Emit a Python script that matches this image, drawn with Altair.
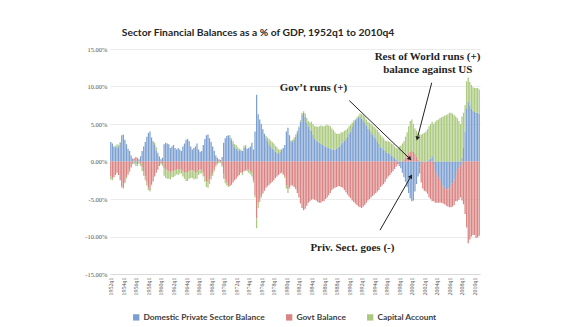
import altair as alt
import pandas as pd

# ---------------- data (percent of GDP, quarterly 1952q1 .. 2010q4) ----------------
first_year = 1952
series_names = ["Domestic Private Sector Balance", "Govt Balance", "Capital Account"]

private = [
    2.6, 2.4, 2.0, 1.9,   2.0, 1.9, 2.5, 3.5,   3.6, 2.9, 2.3, 1.7,   1.4, 0.8, 0.4, 0.1,
    -0.3, -0.4, 0.2, 0.7, 1.4, 2.0, 2.6, 3.3,   3.8, 4.0, 3.2, 2.7,   2.2, 1.5, 1.0, 0.6,
    0.3, 0.5, 2.3, 2.5,   2.4, 2.3, 1.8, 2.0,   2.2, 1.8, 1.6, 1.8,   1.6, 1.4, 2.0, 2.4,
    2.9, 3.0, 2.7, 2.0,   1.6, 1.8, 2.0, 2.4,   1.6, 1.3, 1.4, 2.2,   3.0, 3.5, 3.6, 3.1,
    2.6, 2.0, 1.4, 0.8,   0.5, 0.2, 0.0, 0.6,   2.5, 3.1, 3.4, 3.5,   3.2, 2.9, 2.4, 1.9,
    1.7, 1.5, 1.4, 1.4,   1.4, 1.8, 2.0, 1.7,   1.8, 2.0, 2.5, 1.6,   4.0, 8.9, 6.3, 5.6,
    5.0, 4.3, 3.7, 3.1,   2.7, 2.3, 2.0, 1.7,   1.6, 1.3, 1.2, 1.0,   1.3, 1.6, 1.8, 2.2,
    4.0, 4.5, 3.5, 2.7,   2.6, 2.9, 3.3, 3.8,   4.5, 5.3, 6.2, 6.5,   6.0, 5.2, 4.6, 4.2,
    4.1, 3.6, 3.0, 2.8,   2.6, 2.5, 2.4, 2.2,   2.1, 2.0, 1.9, 1.8,   1.7, 1.6, 1.6, 1.6,
    1.7, 1.9, 2.0, 2.3,   2.5, 2.8, 3.0, 3.3,   3.7, 4.0, 4.6, 5.1,   5.5, 5.7, 5.8, 6.0,
    5.7, 5.5, 5.2, 4.8,   4.4, 4.2, 3.9, 3.6,   3.3, 3.0, 2.7, 2.4,   1.9, 1.8, 1.6, 1.4,
    1.2, 1.1, 1.0, 0.8,   0.7, 0.5, 0.2, 0.0,   -0.4, -0.9, -1.5, -2.1, -2.7, -3.4, -4.2, -4.9,
    -5.3, -5.2, -4.0, -3.0, -2.0, -0.8, -0.3, 0.0, -0.1, 0.0, 0.1, 0.2,  0.4, 0.7, -0.5, -1.0,
    -1.6, -2.1, -2.6, -3.0, -3.3, -3.5, -3.7, -3.7, -3.6, -3.3, -2.9, -2.4, -1.8, -1.3, -0.9, -0.5,
    0.5, 1.8, 4.0, 7.0,   8.0, 7.5, 7.0, 6.8,   6.6, 6.5, 6.5, 6.4,
]

govt = [
    -2.0, -2.2, -2.1, -1.8, -1.5, -1.8, -2.5, -3.3, -3.5, -2.8, -2.1, -1.7, -1.2, -0.8, -0.3, 0.3,
    0.6, 0.5, 0.1, -0.2,  -0.8, -1.3, -2.0, -2.8, -3.5, -3.8, -3.0, -2.6, -2.0, -1.5, -1.1, -0.6,
    -0.2, -0.3, -0.9, -1.0, -1.2, -1.3, -1.5, -1.3, -1.3, -1.2, -1.1, -1.0, -1.0, -1.1, -1.3, -1.5,
    -1.5, -1.4, -1.3, -1.2, -1.2, -1.3, -1.4, -1.5, -1.2, -1.1, -1.1, -1.4, -2.0, -2.6, -2.8, -2.4,
    -2.0, -1.6, -1.0, -0.5, -0.2, 0.1, 0.2, -0.5, -1.7, -2.4, -2.8, -3.2, -3.3, -3.1, -2.8, -2.5,
    -2.3, -2.0, -1.8, -1.5, -1.5, -1.3, -1.2, -1.1, -1.1, -1.3, -1.5, -2.5, -4.5, -7.6, -5.5, -5.0,
    -4.6, -4.2, -3.9, -3.5, -3.3, -3.1, -2.9, -2.7, -2.5, -2.2, -2.0, -1.8, -1.6, -1.5, -1.7, -2.0,
    -3.2, -3.7, -3.4, -3.2, -3.2, -3.4, -3.7, -4.2, -4.8, -5.6, -6.2, -6.5, -6.3, -5.9, -5.5, -5.3,
    -5.1, -5.0, -5.1, -5.2, -5.4, -5.5, -5.5, -5.3, -5.3, -5.0, -4.8, -4.5, -4.2, -3.8, -3.6, -3.5,
    -3.4, -3.3, -3.3, -3.4, -3.5, -3.8, -4.1, -4.4, -4.7, -4.9, -5.2, -5.4, -5.6, -5.8, -6.0, -6.1,
    -6.2, -6.0, -5.8, -5.5, -5.2, -5.0, -4.8, -4.6, -4.4, -4.2, -4.0, -3.8, -3.4, -3.2, -3.0, -2.7,
    -2.3, -2.0, -1.8, -1.5, -1.3, -1.0, -0.7, -0.4, -0.2, 0.0, 0.1, 0.3,  0.5, 0.8, 1.1, 1.3,
    1.4, 1.3, 1.0, 0.6,   0.2, -0.8, -2.5, -3.6, -3.8, -4.0, -4.3, -4.8, -5.0, -5.3, -4.8, -4.5,
    -3.9, -3.4, -2.9, -2.5, -2.3, -2.2, -2.2, -2.3, -2.5, -2.8, -3.1, -3.4, -3.5, -4.0, -4.2, -4.3,
    -5.2, -5.7, -7.0, -8.8, -10.9, -10.4, -10.0, -9.8, -9.8, -10.2, -10.1, -9.9,
]

capital = [
    -0.4, -0.3, 0.0, 0.2, 0.3, 0.3, 0.1, -0.2,  -0.1, -0.1, -0.2, -0.1, -0.2, 0.0, -0.1, -0.3,
    -0.3, -0.2, -0.3, -0.4, -0.5, -0.6, -0.5, -0.4, -0.3, -0.2, -0.2, -0.1, 0.3, 0.4, 0.2, 0.1,
    -0.2, -0.3, -1.0, -1.2, -1.1, -1.0, -0.9, -0.8, -0.8, -0.7, -0.6, -0.8, -0.6, -0.5, -0.7, -0.8,
    -1.1, -1.2, -1.0, -1.0, -1.0, -1.1, -0.9, -0.8, -0.6, -0.5, -0.5, -0.6, -0.7, -0.8, -0.7, -0.6,
    -0.4, -0.3, -0.3, -0.2, -0.2, -0.2, -0.2, -0.2, -0.6, -0.5, -0.4, -0.2, 0.3, 0.2, 0.3, 0.4,
    0.5, 0.4, 0.3, 0.2,   -0.3, 0.3, 0.2, -0.2, -0.4, -0.4, -0.5, -0.3, -0.3, -1.3, -0.7, -0.4,
    -0.2, -0.1, 0.0, 0.3, 0.5, 0.7, 0.8, 0.9,   0.8, 0.8, 0.7, 0.6,   0.3, 0.0, -0.1, -0.2,
    -0.4, -0.5, -0.2, 0.1, 0.3, 0.3, 0.3, 0.3,   0.2, 0.2, 0.3, 0.2,   0.4, 0.6, 0.8, 1.0,
    1.2, 1.4, 1.7, 1.9,   2.0, 2.2, 2.4, 2.5,   2.6, 2.8, 3.0, 3.0,   3.0, 2.8, 2.6, 2.3,
    2.0, 1.8, 1.7, 1.6,   1.4, 1.3, 1.2, 1.1,   1.0, 0.9, 0.6, 0.4,   0.1, 0.2, 0.3, 0.4,
    0.6, 0.7, 0.8, 0.8,   0.9, 1.0, 1.1, 1.2,   1.3, 1.4, 1.5, 1.5,   1.6, 1.5, 1.5, 1.4,
    1.5, 1.6, 1.6, 1.6,   1.6, 1.5, 1.6, 1.7,   2.0, 2.1, 2.3, 2.4,   2.8, 3.1, 3.6, 4.1,
    4.2, 3.7, 3.4, 3.5,   3.6, 3.6, 3.6, 3.7,   3.8, 4.0, 4.2, 4.5,   4.6, 4.6, 5.0, 5.3,
    5.5, 5.6, 5.8, 5.9,   6.0, 6.1, 6.2, 6.3,   6.5, 6.5, 6.4, 6.2,   6.0, 5.8, 5.4, 5.0,
    5.5, 4.7, 3.5, 3.7,   3.2, 3.1, 3.2, 3.1,   3.2, 3.3, 3.3, 3.2,
]

colors = ["#7b9fd0", "#d98482", "#abc97f"]

# annotations (text placed in data units: quarter index, percent)
note_text = ["Rest of World runs (+)", "balance against US", "Gov\u2019t runs (+)", "Priv. Sect. goes (-)"]
note_q = [202.5, 202.7, 129.8, 154.6]
note_v = [13.95, 12.25, 9.8, -11.5]

# arrows: start (q, v) -> end (q, v), arrowhead angle in degrees
arrow_q0 = [152.6, 205.2, 172.2]
arrow_v0 = [8.13, 10.49, -9.16]
arrow_q1 = [191.3, 196.0, 192.0]
arrow_v1 = [0.36, 3.07, -1.96]
arrow_ang = [134.0, 194.5, 30.0]

# ---------------- build tables ----------------
n = len(private)
rows = []
for i in range(n):
    for k, arr in enumerate([private, govt, capital]):
        rows.append({"q": i, "series": series_names[k], "value": arr[i], "ord": k})
df = pd.DataFrame(rows)

notes = pd.DataFrame({"label": note_text, "q": note_q, "v": note_v})
arrows = pd.DataFrame({"q0": arrow_q0, "v0": arrow_v0, "q1": arrow_q1, "v1": arrow_v1, "ang": arrow_ang})

xscale = alt.Scale(domain=[0, n], nice=False, zero=False)
yscale = alt.Scale(domain=[-15, 15], nice=False)

tick_q = [i * 8 + 0.5 for i in range(30)]

xaxis = alt.Axis(values=tick_q, labelExpr="(1952 + floor(datum.value / 4)) + 'q1'",
                 labelAngle=-90, labelFontSize=6, labelFont="Liberation Serif",
                 labelColor="#555555", ticks=False, grid=False, domain=True,
                 domainColor="#d9d9d9", labelPadding=3, title=None,
                 labelOverlap=False, labelSeparation=0, labelBound=False)
yaxis = alt.Axis(values=[-15, -10, -5, 0, 5, 10, 15],
                 labelExpr="(datum.value < 0 ? '-' : '') + format(abs(datum.value) / 100, '.2%')",
                 labelFontSize=6.5, labelFont="Liberation Serif", labelColor="#555555",
                 ticks=False, domain=False, grid=True, gridColor="#ebebeb",
                 labelPadding=3, title=None, labelOverlap=False)

bars = (
    alt.Chart(df)
    .transform_stack(stack="value", as_=["y0", "y1"], groupby=["q"],
                     sort=[alt.SortField("ord", order="ascending")], offset="zero")
    .transform_calculate(xa="datum.q + 0.1", xb="datum.q + 0.9")
    .mark_bar(strokeWidth=0)
    .encode(
        x=alt.X("xa:Q", scale=xscale, axis=xaxis),
        x2="xb:Q",
        y=alt.Y("y0:Q", scale=yscale, axis=yaxis),
        y2="y1:Q",
        color=alt.Color("series:N", scale=alt.Scale(domain=series_names, range=colors),
                        legend=alt.Legend(orient="none", legendX=22, legendY=264, direction="horizontal",
                                          title=None, symbolType="square", symbolSize=40,
                                          symbolStrokeWidth=0, labelFont="Lato", labelFontSize=8.4,
                                          labelFontWeight="bold", labelColor="#404040",
                                          columnPadding=20, labelOffset=3)),
    )
)

lines = (
    alt.Chart(arrows)
    .mark_rule(color="#222222", strokeWidth=1)
    .encode(x=alt.X("q0:Q", scale=xscale, axis=xaxis), y=alt.Y("v0:Q", scale=yscale, axis=yaxis),
            x2="q1:Q", y2="v1:Q")
)

heads = (
    alt.Chart(arrows)
    .mark_point(shape="triangle-up", filled=True, color="#222222", size=22, opacity=1)
    .encode(x=alt.X("q1:Q", scale=xscale, axis=xaxis), y=alt.Y("v1:Q", scale=yscale, axis=yaxis),
            angle=alt.Angle("ang:Q", scale=None))
)

texts = (
    alt.Chart(notes)
    .mark_text(font="Liberation Serif", fontWeight="bold", fontSize=11, color="#1f1f1f",
               align="center", baseline="middle")
    .encode(x=alt.X("q:Q", scale=xscale, axis=xaxis), y=alt.Y("v:Q", scale=yscale, axis=yaxis),
            text="label:N")
)

chart = (
    alt.layer(bars, lines, heads, texts)
    .properties(
        width=370, height=225,
        autosize=alt.AutoSizeParams(type="none"),
        padding={"left": 110, "top": 49, "right": 96, "bottom": 53},
        title=alt.TitleParams("Sector Financial Balances as a % of GDP, 1952q1 to 2010q4",
                              font="Lato", fontSize=10.3, fontWeight="bold", color="#262626",
                              anchor="middle", frame="group", dx=-37, offset=0, baseline="alphabetic"),
        background="white",
    )
    .configure_view(stroke=None)
    .configure_axis(labelOverlap=False)
)

chart.save("out.html", embed_options={"renderer": "svg", "actions": False})
